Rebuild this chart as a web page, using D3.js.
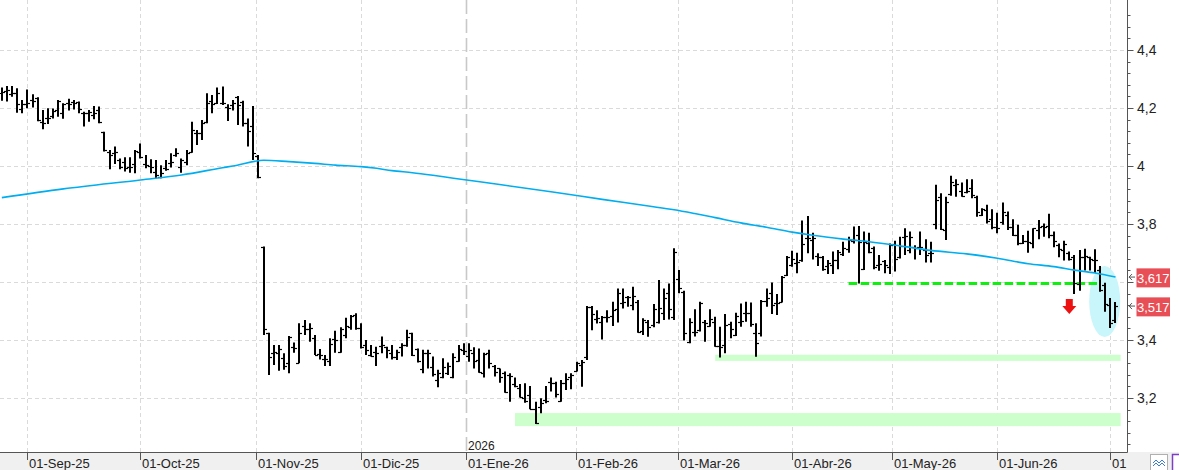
<!DOCTYPE html>
<html><head><meta charset="utf-8">
<script src="https://cdn.jsdelivr.net/npm/d3@7"></script>
<style>
body{margin:0;background:#fff;}
svg{display:block;}
text{font-family:"Liberation Sans Narrow","Arial Narrow","Liberation Sans",Arial,sans-serif;}
</style>
</head><body>
<svg id="c" width="1179" height="470"></svg>
<script>
// ---- DATA (one entry per trading session, 25-Aug-25 .. 02-Jul-26) ----
const openV = [4.251,4.259,4.248,4.251,4.195,4.214,4.228,4.233,4.153,4.164,4.174,4.193,4.182,4.218,4.222,4.220,4.182,4.184,4.176,4.193,
4.118,4.050,4.046,4.021,4.015,3.995,4.007,4.050,4.007,4.000,3.981,3.963,3.992,4.009,4.038,3.998,4.015,4.050,4.115,4.115,
4.153,4.225,4.218,4.218,4.202,4.210,4.237,4.222,4.147,4.138,4.035,3.720,3.423,3.356,3.356,3.337,3.320,3.375,3.322,3.448,
3.437,3.406,3.351,3.333,3.329,3.402,3.360,3.417,3.446,3.486,3.440,3.383,3.348,3.360,3.379,3.375,3.354,3.343,3.377,3.383,
3.423,3.368,3.299,3.354,3.308,3.262,3.271,3.287,3.271,3.329,3.366,3.345,3.354,3.331,3.285,3.356,3.310,3.302,3.285,3.279,
3.248,3.233,3.199,3.210,3.161,3.170,3.193,3.256,3.251,3.191,3.251,3.274,3.294,3.314,3.340,3.515,3.471,3.463,3.480,3.483,
3.506,3.529,3.547,3.521,3.532,3.432,3.463,3.452,3.463,3.494,3.561,3.478,3.609,3.567,3.394,3.429,3.434,3.463,3.448,3.463,
3.379,3.383,3.455,3.417,3.463,3.492,3.494,3.423,3.425,3.536,3.561,3.526,3.532,3.624,3.659,3.667,3.676,3.751,3.745,3.690,
3.685,3.655,3.659,3.676,3.697,3.713,3.742,3.762,3.644,3.736,3.716,3.659,3.674,3.653,3.731,3.685,3.756,3.710,3.720,3.720,
3.710,3.701,3.800,3.892,3.779,3.903,3.934,3.915,3.912,3.923,3.892,3.831,3.848,3.816,3.789,3.808,3.831,3.789,3.762,3.736,
3.742,3.736,3.779,3.793,3.793,3.762,3.727,3.710,3.699,3.687,3.593,3.685,3.685,3.676,3.641,3.590,3.521,3.469];
const highV = [4.271,4.276,4.276,4.268,4.228,4.264,4.247,4.237,4.193,4.199,4.198,4.228,4.216,4.232,4.228,4.222,4.187,4.193,4.207,4.205,
4.118,4.055,4.067,4.026,4.030,4.030,4.055,4.078,4.038,4.023,4.021,4.003,4.021,4.044,4.061,4.026,4.055,4.153,4.124,4.159,
4.251,4.245,4.271,4.274,4.213,4.228,4.241,4.225,4.164,4.207,4.038,3.722,3.425,3.383,3.383,3.354,3.414,3.391,3.458,3.469,
3.458,3.417,3.369,3.348,3.406,3.432,3.444,3.477,3.486,3.492,3.458,3.400,3.383,3.377,3.412,3.377,3.383,3.366,3.389,3.435,
3.425,3.371,3.366,3.366,3.343,3.297,3.337,3.322,3.354,3.383,3.389,3.389,3.375,3.371,3.356,3.366,3.314,3.302,3.291,3.285,
3.271,3.248,3.251,3.241,3.187,3.199,3.241,3.271,3.256,3.262,3.285,3.285,3.325,3.331,3.517,3.517,3.503,3.483,3.503,3.532,
3.578,3.578,3.552,3.584,3.538,3.475,3.469,3.524,3.607,3.578,3.595,3.716,3.641,3.570,3.475,3.506,3.532,3.469,3.506,3.480,
3.446,3.490,3.463,3.494,3.526,3.532,3.529,3.458,3.538,3.578,3.598,3.559,3.621,3.690,3.708,3.701,3.812,3.828,3.770,3.699,
3.690,3.676,3.705,3.710,3.739,3.756,3.791,3.793,3.774,3.770,3.722,3.693,3.676,3.733,3.742,3.756,3.785,3.774,3.727,3.774,
3.747,3.739,3.935,3.906,3.894,3.966,3.954,3.943,3.954,3.954,3.897,3.854,3.866,3.851,3.839,3.874,3.843,3.816,3.797,3.762,
3.777,3.785,3.814,3.802,3.835,3.774,3.733,3.742,3.705,3.693,3.710,3.715,3.687,3.713,3.655,3.597,3.545,3.531];
const lowV = [4.225,4.222,4.239,4.184,4.182,4.199,4.202,4.154,4.127,4.145,4.164,4.170,4.163,4.191,4.195,4.182,4.136,4.153,4.161,4.147,
4.050,3.989,4.007,3.989,3.981,3.977,3.975,4.026,3.992,3.975,3.958,3.958,3.984,3.995,4.032,3.977,4.003,4.046,4.072,4.090,
4.147,4.182,4.214,4.210,4.155,4.191,4.141,4.136,4.067,4.021,3.958,3.417,3.279,3.314,3.294,3.297,3.285,3.356,3.320,3.417,
3.394,3.348,3.333,3.310,3.310,3.356,3.356,3.406,3.435,3.435,3.371,3.348,3.343,3.310,3.354,3.337,3.333,3.331,3.343,3.377,
3.345,3.322,3.285,3.302,3.274,3.237,3.268,3.279,3.268,3.325,3.348,3.325,3.302,3.287,3.271,3.302,3.274,3.253,3.218,3.187,
3.237,3.202,3.184,3.161,3.110,3.147,3.182,3.222,3.202,3.187,3.228,3.230,3.291,3.239,3.331,3.434,3.457,3.402,3.460,3.448,
3.460,3.509,3.515,3.503,3.425,3.417,3.411,3.444,3.457,3.469,3.471,3.469,3.561,3.398,3.389,3.412,3.429,3.394,3.446,3.377,
3.340,3.354,3.406,3.414,3.446,3.463,3.446,3.342,3.412,3.515,3.490,3.486,3.529,3.621,3.653,3.630,3.670,3.699,3.678,3.655,
3.639,3.628,3.628,3.644,3.690,3.701,3.733,3.595,3.641,3.699,3.644,3.639,3.630,3.628,3.636,3.681,3.693,3.699,3.678,3.693,
3.667,3.667,3.782,3.779,3.745,3.897,3.894,3.894,3.906,3.889,3.825,3.828,3.802,3.782,3.768,3.797,3.779,3.759,3.727,3.731,
3.701,3.716,3.747,3.756,3.751,3.720,3.685,3.674,3.674,3.559,3.570,3.640,3.640,3.632,3.566,3.497,3.441,3.459];
const closeV = [4.254,4.262,4.251,4.214,4.214,4.216,4.225,4.159,4.147,4.167,4.191,4.225,4.214,4.214,4.218,4.195,4.184,4.187,4.182,4.150,
4.055,4.038,4.050,3.995,3.992,3.998,4.053,4.030,4.003,3.995,3.969,3.975,3.991,4.015,4.044,4.021,4.046,4.124,4.113,4.147,
4.218,4.214,4.251,4.216,4.199,4.216,4.210,4.147,4.122,4.044,3.961,3.437,3.343,3.358,3.368,3.310,3.409,3.371,3.423,3.437,
3.440,3.348,3.348,3.333,3.386,3.400,3.437,3.448,3.483,3.440,3.377,3.366,3.345,3.354,3.383,3.366,3.343,3.360,3.383,3.412,
3.348,3.329,3.354,3.354,3.283,3.285,3.306,3.310,3.343,3.368,3.363,3.366,3.329,3.291,3.352,3.320,3.291,3.271,3.222,3.276,
3.241,3.205,3.188,3.161,3.113,3.182,3.191,3.253,3.214,3.251,3.264,3.279,3.322,3.325,3.515,3.490,3.475,3.478,3.478,3.503,
3.563,3.532,3.549,3.552,3.429,3.469,3.444,3.506,3.509,3.544,3.506,3.705,3.578,3.423,3.463,3.429,3.529,3.458,3.471,3.379,
3.377,3.452,3.437,3.483,3.467,3.494,3.455,3.391,3.534,3.544,3.521,3.529,3.618,3.685,3.678,3.670,3.731,3.751,3.751,3.685,
3.644,3.664,3.676,3.705,3.716,3.745,3.745,3.739,3.739,3.705,3.651,3.662,3.659,3.727,3.681,3.724,3.759,3.756,3.716,3.722,
3.693,3.701,3.883,3.782,3.877,3.946,3.938,3.897,3.915,3.900,3.843,3.851,3.812,3.789,3.785,3.843,3.791,3.762,3.736,3.742,
3.739,3.785,3.789,3.791,3.762,3.742,3.713,3.731,3.678,3.595,3.687,3.690,3.678,3.676,3.572,3.524,3.459,3.517];

// moving average, sampled (session index, value)
const maIdx = [0,12,27,35,43,45,50,51,56,61,65,70,73,76,80,84,88,97,107,117,126,131,135,139,144,149,154,158,164,169,176,181,188,194,200,205,209,213,217];
const maVal = [3.891,3.921,3.952,3.969,3.994,4.000,4.018,4.020,4.015,4.009,4.003,3.998,3.992,3.984,3.977,3.968,3.958,3.936,3.911,3.885,3.862,3.849,3.836,3.822,3.804,3.789,3.772,3.761,3.748,3.739,3.722,3.709,3.697,3.682,3.663,3.653,3.641,3.631,3.617];

// month ticks (session position) and labels
const tickPos = [5,27,49.5,70,90.5,111.8,131.8,154,173.5,194,216];
const tickLabels = ["01-Sep-25","01-Oct-25","01-Nov-25","01-Dic-25","01-Ene-26","01-Feb-26","01-Mar-26","01-Abr-26","01-May-26","01-Jun-26","01"];
const yearPos = 90.5, yearLabel = "2026";

const yMajor = [3.2,3.4,3.6,3.8,4.0,4.2,4.4];
const yMajorLabels = ["3,2","3,4","3,6","3,8","4","4,2","4,4"];

// annotations
const supportBands = [{from:139,to:218,lo:3.328,hi:3.349},{from:100,to:218,lo:3.103,hi:3.148}];
const dashedLevel = {from:165,to:213.4,value:3.595};
const downArrow = {at:208,top:3.541,tip:3.490};
const highlight = {at:214.9,value:3.533};
const lastValues = [{value:3.617,label:"3,617"},{value:3.517,label:"3,517"}];

// ---- DRAW ----
const svg = d3.select("#c");
const x = d3.scaleLinear().domain([0,216]).range([1.84,1110.35]);
const y = d3.scaleLinear().domain([3.2,4.4]).range([398,50]);
const R = 1127.5, B = 452.5;

svg.append("rect").attr("width",1179).attr("height",470).attr("fill","#fff");
svg.append("rect").attr("x",0).attr("y",452).attr("width",1179).attr("height",18).attr("fill","#f0f0f0");

const grid = svg.append("g");
yMajor.forEach(v=>{
  const yy = Math.round(y(v))+0.5;
  grid.append("line").attr("x1",0).attr("x2",R).attr("y1",yy).attr("y2",yy)
    .attr("stroke","#dadada").attr("stroke-dasharray","4,3");
});
tickPos.forEach(p=>{
  if (p===yearPos) return;
  const xx = Math.round(x(p))+0.5;
  grid.append("line").attr("x1",xx).attr("x2",xx).attr("y1",0).attr("y2",B)
    .attr("stroke","#dadada").attr("stroke-dasharray","4,3");
});
{
  const xx = Math.round(x(yearPos))+0.5;
  grid.append("line").attr("x1",xx).attr("x2",xx).attr("y1",0).attr("y2",B)
    .attr("stroke","#c8c8c8").attr("stroke-width",1.6).attr("stroke-dasharray","14,5");
}

// support bands
supportBands.forEach(b=>{
  svg.append("rect").attr("x",x(b.from)).attr("width",x(b.to)-x(b.from))
    .attr("y",y(b.hi)).attr("height",y(b.lo)-y(b.hi)).attr("fill","#ccffcc");
});

// highlight ellipse
svg.append("ellipse").attr("cx",x(highlight.at)).attr("cy",y(highlight.value))
  .attr("rx",15.5).attr("ry",35.5).attr("fill","#c8f6fb");

// dashed level
svg.append("line").attr("x1",x(dashedLevel.from)).attr("x2",x(dashedLevel.to))
  .attr("y1",y(dashedLevel.value)).attr("y2",y(dashedLevel.value))
  .attr("stroke","#11ee11").attr("stroke-width",3).attr("stroke-dasharray","8.5,3.5");

// OHLC bars
const bars = svg.append("g").attr("stroke","#000").attr("fill","none");
openV.forEach((o,i)=>{
  const cx = Math.round(x(i));
  bars.append("line").attr("x1",cx).attr("x2",cx).attr("y1",y(highV[i])).attr("y2",y(lowV[i])).attr("stroke-width",2);
  const yo = Math.round(y(o))+0.5, yc = Math.round(y(closeV[i]))+0.5;
  bars.append("line").attr("x1",cx-3).attr("x2",cx).attr("y1",yo).attr("y2",yo).attr("stroke-width",1.2);
  bars.append("line").attr("x1",cx).attr("x2",cx+3).attr("y1",yc).attr("y2",yc).attr("stroke-width",1.2);
});

// moving average
const maPts = maIdx.map((d,i)=>[d,maVal[i]]);
svg.append("path").datum(maPts).attr("fill","none").attr("stroke","#00aeef").attr("stroke-width",1.6)
  .attr("d",d3.line().curve(d3.curveMonotoneX).x(d=>x(d[0])).y(d=>y(d[1])));

// red down arrow
{
  const ax = x(downArrow.at), yt = y(downArrow.top), yp = y(downArrow.tip);
  const ym = yt + (yp-yt)*0.47;
  svg.append("path").attr("fill","#ee1111")
    .attr("d",`M${ax-3.5},${yt}H${ax+3.5}V${ym}H${ax+7}L${ax},${yp}L${ax-7},${ym}H${ax-3.5}Z`);
}

// axes
svg.append("line").attr("x1",0).attr("x2",R).attr("y1",B).attr("y2",B).attr("stroke","#555");
svg.append("line").attr("x1",R).attr("x2",R).attr("y1",0).attr("y2",B).attr("stroke","#555");

const yMinor = d3.range(0,38).map(k=>+(3.04+k*0.04).toFixed(2));
yMinor.forEach(v=>{
  const yy = Math.round(y(v))+0.5;
  if (yy<0 || yy>B) return;
  const major = yMajor.some(m=>Math.abs(m-v)<1e-6);
  svg.append("line").attr("x1",R).attr("x2",R+(major?6:3)).attr("y1",yy).attr("y2",yy).attr("stroke","#555");
});
// tick labels (a label hidden behind a last-value box is not drawn, as in the original)
yMajor.forEach((v,k)=>{
  const covered = lastValues.some(d=>Math.abs(y(d.value)-y(v))<12);
  if (covered) return;
  svg.append("text").attr("x",1137).attr("y",y(v)).attr("dy","0.36em")
    .attr("font-size",14).attr("fill","#222").text(yMajorLabels[k]);
});

tickPos.forEach((p,k)=>{
  const xx = Math.round(x(p))+0.5;
  svg.append("line").attr("x1",xx).attr("x2",xx).attr("y1",B).attr("y2",460).attr("stroke","#555");
  svg.append("text").attr("x",xx+1.5).attr("y",468).attr("font-size",13).attr("fill","#222").text(tickLabels[k]);
});
svg.append("text").attr("x",Math.round(x(yearPos))+2).attr("y",449.5).attr("font-size",12).attr("fill","#222").text(yearLabel);

// last-value labels
lastValues.forEach(d=>{
  const yy = y(d.value);
  svg.append("path").attr("fill","none").attr("stroke","#555")
    .attr("d",`M1135,${yy}H1129M1132,${yy-3}L1129,${yy}L1132,${yy+3}`);
  svg.append("rect").attr("x",1136.5).attr("y",yy-8.7).attr("width",33.5).attr("height",19).attr("fill","#e84e55");
  svg.append("text").attr("x",1153.3).attr("y",yy+0.8).attr("dy","0.36em").attr("text-anchor","middle")
    .attr("font-size",13).attr("fill","#fff").text(d.label);
});

// corner widgets
svg.append("rect").attr("x",1150.5).attr("y",454.5).attr("width",17).attr("height",17).attr("fill","#fff").attr("stroke","#b0b0b0");
svg.append("path").attr("fill","none").attr("stroke","#3a7bd5").attr("stroke-width",1)
  .attr("d","M1153,463 L1156,460 L1159,463 L1162,460 L1165,463 M1153,466 L1156,463 L1159,466 L1162,463 L1165,466");
svg.append("rect").attr("x",1172.5).attr("y",454.5).attr("width",12).attr("height",17).attr("fill","#fff").attr("stroke","#7b3fc4").attr("stroke-width",1.5);
</script>
</body></html>
